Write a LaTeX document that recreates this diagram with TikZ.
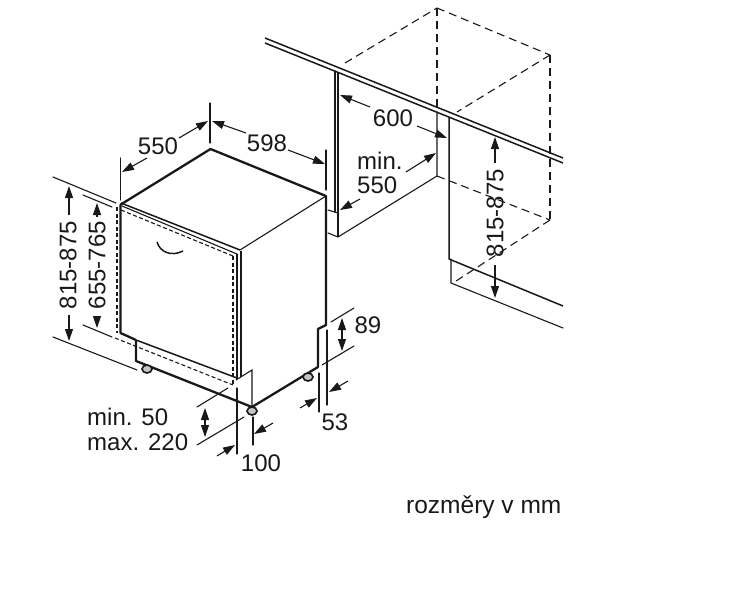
\documentclass[tikz,border=0pt]{standalone}
\usepackage{fontspec}
\setmainfont{Liberation Sans}
\usetikzlibrary{arrows.meta}
\definecolor{ink}{gray}{0.1}
\tikzset{
  thin line/.style={draw=ink,line width=1.1pt,line cap=round},
  thick line/.style={draw=ink,line width=2.3pt,line join=round},
  mid line/.style={draw=ink,line width=1.5pt,line join=round},
  dash line/.style={draw=ink,line width=1.1pt,dash pattern=on 8pt off 5pt},
  fine dash/.style={draw=ink,line width=1.1pt,dash pattern=on 4pt off 2.5pt},
  dim/.style={draw=ink,line width=1.1pt,-{Triangle[length=12pt,width=8pt]}},
  dimboth/.style={draw=ink,line width=1.1pt,{Triangle[length=12pt,width=8pt]}-{Triangle[length=12pt,width=8pt]}},
  lab/.style={inner sep=0pt,font=\fontsize{24}{24}\selectfont,text=ink},
  foot/.style={draw=ink,line width=1.6pt,fill=gray!45}
}
\begin{document}
\begin{tikzpicture}[x=1pt,y=-1pt]
\useasboundingbox (0,0) rectangle (750,605);
\fill[white] (0,0) rectangle (750,605);
% cabinet outline
\draw[thin line] (240,250) -- (326,196);
\draw[thick line] (120,205) -- (210.5,149) -- (326,196) -- (326,325) -- (318,329) -- (318,367) -- (252,407) -- (136,361) -- (136,340);
\draw[thick line] (120.5,205) -- (120.5,333) -- (136,340);
\draw[mid line] (136,340) -- (237,378);
% door
\draw[mid line] (121,203) -- (240,250);
\draw[thin line] (122,206) -- (237,254);
\draw[fine dash] (121,210) -- (233,256);
\draw[fine dash] (117,207) -- (117,333);
\draw[fine dash] (115,338) -- (233,385);
\draw[fine dash] (233,256) -- (233,385);
\draw[mid line] (237,254) -- (237,379);
\draw[mid line] (241,251) -- (241,377);
\draw[thin line] (236,380) -- (252,370) -- (252,407);
% handle
\draw[mid line] (157,242) .. controls (160,252) and (171,257) .. (183,251);
% feet
\draw[foot] (147,369) ellipse (5 and 4);
\draw[foot] (252,411) ellipse (5 and 4);
\draw[foot] (308,377) ellipse (5 and 4);
% counter and niche
\draw[mid line] (265,38) -- (563,158);
\draw[mid line] (265,43) -- (563,163);
\draw[thin line] (335,71) -- (335,212);
\draw[mid line] (338,72) -- (338,237);
\draw[thin line] (328,210) -- (338,213);
\draw[thin line] (328,233) -- (338,237) -- (437,176) -- (437,112);
\draw[mid line] (449,117) -- (449,259) -- (563,306);
\draw[thin line] (451,259) -- (451,283) -- (563,328);
\draw[dash line] (345,63) -- (437,8);
\draw[dash line] (437,8) -- (550,55);
\draw[dash line] (437,8) -- (437,112);
\draw[dash line] (550,55) -- (550,220);
\draw[dash line] (550,55) -- (457,112);
\draw[dash line] (437,176) -- (550,220);
\draw[dash line] (550,220) -- (453,283);
% extension lines
\draw[thin line] (210,103) -- (210,143);
\draw[thin line] (120.5,158) -- (120.5,200);
\draw[thin line] (326,150) -- (326,190);
\draw[thin line] (53,177) -- (116,203);
\draw[thin line] (83,195) -- (112,207);
\draw[thin line] (53,337) -- (137,370);
\draw[thin line] (83,325) -- (112,337);
\draw[thin line] (197,407) -- (228,388);
\draw[thin line] (197,445) -- (244,417);
\draw[thin line] (237,388) -- (237,454);
\draw[thin line] (253,417) -- (253,445);
\draw[thin line] (319,373) -- (319,412);
\draw[thin line] (327,330) -- (327,405);
\draw[thin line] (331,322) -- (354,308);
\draw[thin line] (322,365) -- (354,346);
% labels
\node[lab] (a550) at (158,146) {550};
\node[lab] (a598) at (267,143) {598};
\node[lab,rotate=90] (h1) at (68,265) {815-875};
\node[lab,rotate=90] (h2) at (97,265) {655-765};
\node[lab,anchor=base west] (m50) at (87,425) {min. 50};
\node[lab,anchor=base west] (m220) at (87,450) {max. 220};
\node[lab] (a100) at (261,463) {100};
\node[lab] (a53) at (335,422) {53};
\node[lab] (a89) at (368,325) {89};
\node[lab] (a600) at (393,118) {600};
\node[lab,anchor=base west] (mn) at (357,169) {min.};
\node[lab,anchor=base west] (b550) at (357,193) {550};
\node[lab,rotate=90] (h3) at (495,213) {815-875};
\node[lab,anchor=base west,font=\fontsize{24.5}{24.5}\selectfont] (note) at (406,513) {rozměry v mm};
% dimension arrows
\coordinate (t1) at (122,172);
\coordinate (t2) at (208,121);
\coordinate (t3) at (212,121);
\coordinate (t4) at (325,164);
\draw[dim] (147,158) -- (t1);
\draw[dim] (179,138) -- (t2);
\draw[dim] (246,133) -- (t3);
\draw[dim] (288,150) -- (t4);
\draw[dim] (69,215) -- (69,186);
\draw[dim] (69,315) -- (69,341);
\draw[dim] (97,217) -- (97,203);
\draw[dim] (97,318) -- (97,328);
\draw[dimboth] (205,408) -- (205,437);
\draw[dim] (217,456) -- (235,445);
\draw[dim] (273,423) -- (254,434);
\draw[dim] (300,408) -- (317,398);
\draw[dim] (348,381) -- (329,392);
\draw[dimboth] (342,318) -- (342,351);
\draw[dim] (370,107) -- (340,95);
\draw[dim] (417,126) -- (447,138);
\draw[dim] (406,172) -- (436,153);
\draw[dim] (360,199) -- (340,210);
\draw[dim] (495,163) -- (495,137);
\draw[dim] (495,265) -- (495,298);
\end{tikzpicture}
\end{document}
